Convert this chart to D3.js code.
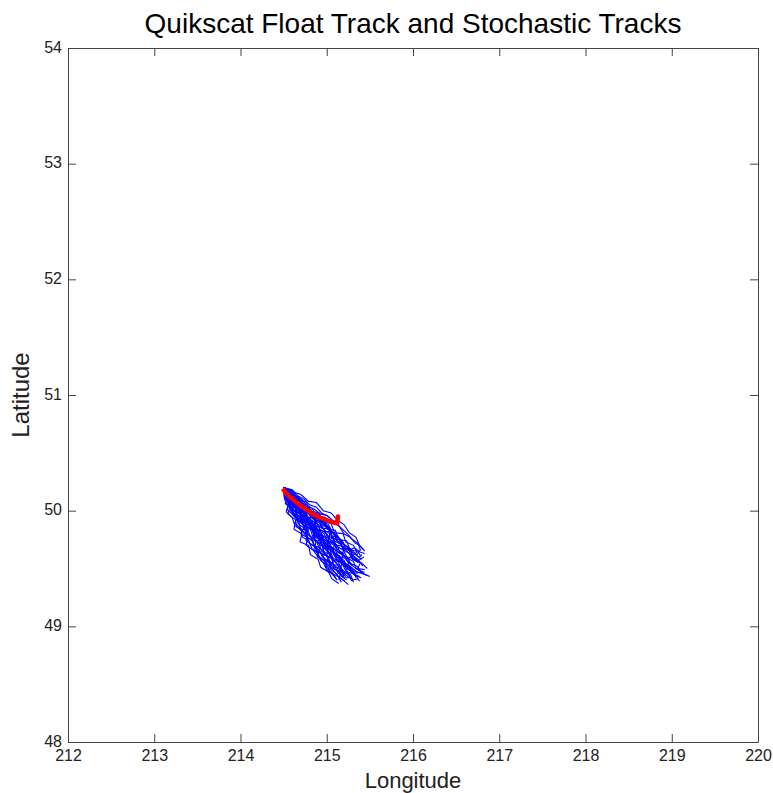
<!DOCTYPE html>
<html>
<head>
<meta charset="utf-8">
<script src="https://cdn.jsdelivr.net/npm/d3@7"></script>
<style>
  body { margin: 0; background: #fff; }
  text { font-family: "Liberation Sans", Arial, sans-serif; }
</style>
</head>
<body>
<script>
// chart size
let width = 773;
let height = 793;

// axis ranges and ticks
let lonTicks = [212, 213, 214, 215, 216, 217, 218, 219, 220];
let latTicks = [48, 49, 50, 51, 52, 53, 54];

// observed float track (red)
let floatTrack = [
  [214.49, 50.19], [214.53, 50.15], [214.57, 50.12], [214.62, 50.09], [214.67, 50.06],
  [214.72, 50.03], [214.77, 50.01], [214.82, 49.98], [214.87, 49.96], [214.92, 49.94],
  [214.97, 49.93], [215.02, 49.91], [215.07, 49.90], [215.12, 49.89], [215.13, 49.95],
  [215.12, 49.88]
];

// stochastic tracks (blue)
let stochTracks = [
  [[214.50,50.20],[214.51,50.12],[214.56,50.08],[214.54,50.01],[214.60,49.97],[214.66,49.93],[214.65,49.86],[214.72,49.82],[214.78,49.76],[214.76,49.70],[214.84,49.66],[214.90,49.60],[214.96,49.55],[215.00,49.49],[215.08,49.44],[215.12,49.40]],
  [[214.50,50.20],[214.57,50.16],[214.62,50.10],[214.70,50.07],[214.74,50.01],[214.82,49.98],[214.88,49.92],[214.95,49.90],[215.01,49.84],[215.08,49.80],[215.12,49.74],[215.20,49.71],[215.27,49.66],[215.32,49.68],[215.39,49.64],[215.44,49.63]],
  [[214.50,50.20],[214.53,50.14],[214.60,50.10],[214.63,50.03],[214.69,49.98],[214.72,49.90],[214.80,49.87],[214.85,49.80],[214.90,49.77],[214.94,49.70],[215.01,49.66],[215.06,49.60],[215.13,49.56],[215.18,49.49],[215.25,49.45],[215.30,49.40],[215.36,49.41]],
  [[214.50,50.20],[214.55,50.15],[214.59,50.07],[214.66,50.04],[214.71,49.97],[214.77,49.94],[214.81,49.86],[214.89,49.83],[214.93,49.75],[215.00,49.72],[215.05,49.65],[215.12,49.62],[215.17,49.56],[215.25,49.53],[215.31,49.48],[215.40,49.46],[215.47,49.44]],
  [[214.50,50.20],[214.52,50.13],[214.57,50.07],[214.58,50.00],[214.64,49.95],[214.68,49.88],[214.74,49.85],[214.77,49.78],[214.84,49.73],[214.88,49.66],[214.95,49.62],[214.99,49.55],[215.06,49.50],[215.12,49.44],[215.19,49.40],[215.25,49.36]],
  [[214.50,50.20],[214.58,50.17],[214.65,50.12],[214.72,50.09],[214.78,50.04],[214.86,50.01],[214.93,49.97],[215.00,49.96],[215.06,49.92],[215.13,49.88],[215.18,49.84],[215.24,49.80],[215.30,49.75],[215.36,49.72],[215.39,49.66],[215.34,49.61]],
  [[214.50,50.20],[214.54,50.12],[214.61,50.07],[214.67,50.01],[214.70,49.94],[214.78,49.90],[214.83,49.84],[214.87,49.77],[214.95,49.73],[215.00,49.67],[215.04,49.60],[215.11,49.55],[215.16,49.48],[215.22,49.43]],
  [[214.50,50.20],[214.56,50.14],[214.63,50.11],[214.68,50.05],[214.76,50.01],[214.81,49.95],[214.88,49.90],[214.92,49.84],[215.00,49.80],[215.05,49.74],[215.12,49.70],[215.16,49.63],[215.23,49.60],[215.28,49.54],[215.35,49.52],[215.40,49.47]],
  [[214.50,50.20],[214.51,50.10],[214.55,50.04],[214.53,49.99],[214.60,49.94],[214.63,49.87],[214.70,49.84],[214.72,49.77],[214.79,49.74],[214.83,49.67],[214.90,49.63],[214.93,49.57],[215.00,49.53],[215.04,49.47],[215.10,49.42]],
  [[214.50,50.20],[214.57,50.13],[214.64,50.09],[214.69,50.02],[214.75,49.98],[214.80,49.91],[214.87,49.87],[214.91,49.80],[214.98,49.77],[215.03,49.70],[215.09,49.67],[215.14,49.60],[215.20,49.57],[215.24,49.51],[215.31,49.47],[215.34,49.42]],
  [[214.50,50.20],[214.55,50.16],[214.61,50.11],[214.67,50.08],[214.73,50.03],[214.80,49.99],[214.85,49.93],[214.92,49.89],[214.97,49.83],[215.04,49.80],[215.09,49.74],[215.16,49.71],[215.21,49.65],[215.29,49.62],[215.36,49.58],[215.42,49.52]],
  [[214.50,50.20],[214.53,50.11],[214.58,50.05],[214.62,49.97],[214.68,49.92],[214.74,49.86],[214.78,49.80],[214.83,49.76],[214.86,49.69],[214.92,49.65],[214.97,49.59],[215.03,49.55],[215.08,49.50],[215.15,49.47],[215.19,49.42]],
  [[214.50,50.20],[214.59,50.15],[214.66,50.10],[214.71,50.06],[214.79,50.02],[214.84,49.96],[214.91,49.93],[214.96,49.87],[215.03,49.84],[215.07,49.77],[215.14,49.73],[215.19,49.68],[215.25,49.64],[215.30,49.58],[215.37,49.55]],
  [[214.50,50.20],[214.54,50.14],[214.58,50.09],[214.65,50.06],[214.68,49.99],[214.75,49.95],[214.78,49.88],[214.85,49.84],[214.89,49.78],[214.96,49.74],[215.00,49.68],[215.07,49.64],[215.11,49.58],[215.18,49.54],[215.22,49.48],[215.28,49.44],[215.31,49.38]],
  [[214.50,50.20],[214.56,50.13],[214.62,50.09],[214.66,50.02],[214.73,49.99],[214.77,49.92],[214.84,49.88],[214.88,49.81],[214.95,49.78],[214.99,49.71],[215.06,49.68],[215.10,49.62],[215.17,49.59],[215.22,49.52],[215.28,49.50]],
  [[214.50,50.20],[214.60,50.18],[214.66,50.13],[214.74,50.10],[214.80,50.05],[214.88,50.03],[214.94,49.98],[215.02,49.95],[215.08,49.90],[215.15,49.86],[215.20,49.80],[215.27,49.77],[215.33,49.72],[215.38,49.70],[215.44,49.65]],
  [[214.50,50.20],[214.52,50.12],[214.59,50.08],[214.61,50.01],[214.67,49.96],[214.71,49.89],[214.77,49.85],[214.81,49.78],[214.88,49.74],[214.91,49.68],[214.98,49.64],[215.02,49.57],[215.09,49.53],[215.13,49.46],[215.20,49.44]],
  [[214.50,50.20],[214.57,50.15],[214.63,50.09],[214.70,50.05],[214.76,49.99],[214.83,49.96],[214.88,49.89],[214.95,49.86],[215.00,49.79],[215.07,49.76],[215.12,49.69],[215.19,49.66],[215.24,49.59],[215.31,49.56],[215.34,49.50],[215.42,49.47]],
  [[214.50,50.20],[214.55,50.13],[214.60,50.06],[214.67,50.03],[214.71,49.96],[214.76,49.91],[214.82,49.86],[214.86,49.79],[214.92,49.75],[214.96,49.68],[215.03,49.63],[215.07,49.57],[215.14,49.53],[215.18,49.47],[215.26,49.42]],
  [[214.50,50.20],[214.58,50.16],[214.64,50.12],[214.71,50.07],[214.77,50.03],[214.84,49.98],[214.90,49.95],[214.96,49.89],[215.03,49.86],[215.08,49.80],[215.15,49.76],[215.21,49.70],[215.28,49.67],[215.34,49.62],[215.40,49.58]],
  [[214.50,50.20],[214.52,50.14],[214.57,50.10],[214.56,50.03],[214.62,49.98],[214.66,49.92],[214.73,49.88],[214.76,49.81],[214.82,49.77],[214.85,49.70],[214.91,49.66],[214.95,49.60],[215.02,49.56],[215.05,49.49],[215.12,49.45],[215.17,49.38]],
  [[214.50,50.20],[214.56,50.15],[214.64,50.13],[214.70,50.07],[214.77,50.05],[214.82,49.99],[214.90,49.97],[214.95,49.91],[215.02,49.88],[215.06,49.82],[215.13,49.78],[215.17,49.72],[215.24,49.69],[215.28,49.62],[215.33,49.60]],
  [[214.50,50.20],[214.54,50.12],[214.61,50.08],[214.64,50.00],[214.70,49.96],[214.74,49.89],[214.81,49.84],[214.84,49.77],[214.91,49.72],[214.94,49.65],[215.01,49.61],[215.05,49.54],[215.12,49.51],[215.16,49.44],[215.23,49.40]],
  [[214.50,50.20],[214.57,50.14],[214.62,50.08],[214.69,50.04],[214.74,49.97],[214.81,49.93],[214.86,49.86],[214.93,49.82],[214.97,49.75],[215.04,49.71],[215.08,49.64],[215.15,49.61],[215.19,49.54],[215.26,49.51],[215.32,49.45],[215.38,49.43]],
  [[214.50,50.20],[214.55,50.15],[214.60,50.11],[214.68,50.09],[214.73,50.02],[214.79,49.97],[214.86,49.94],[214.90,49.87],[214.97,49.84],[215.01,49.77],[215.08,49.73],[215.12,49.67],[215.19,49.63],[215.23,49.57],[215.30,49.53]],
  [[214.50,50.20],[214.51,50.15],[214.54,50.08],[214.59,50.03],[214.61,49.96],[214.67,49.91],[214.70,49.84],[214.77,49.79],[214.80,49.72],[214.87,49.68],[214.90,49.61],[214.97,49.57],[215.00,49.50],[215.07,49.46],[215.11,49.41]],
  [[214.50,50.20],[214.58,50.14],[214.66,50.12],[214.72,50.06],[214.79,50.00],[214.87,49.97],[214.92,49.92],[214.99,49.88],[215.05,49.83],[215.11,49.77],[215.18,49.74],[215.22,49.67],[215.30,49.64],[215.37,49.60],[215.41,49.62]],
  [[214.50,50.20],[214.53,50.15],[214.60,50.12],[214.64,50.06],[214.71,50.02],[214.75,49.95],[214.82,49.91],[214.86,49.84],[214.93,49.80],[214.97,49.73],[215.04,49.69],[215.08,49.62],[215.15,49.58],[215.20,49.52],[215.27,49.48],[215.33,49.44],[215.40,49.42]],
  [[214.50,50.20],[214.56,50.16],[214.59,50.10],[214.65,50.07],[214.69,50.00],[214.76,49.96],[214.79,49.89],[214.86,49.86],[214.89,49.79],[214.95,49.76],[214.98,49.69],[215.04,49.66],[215.07,49.59]],
  [[214.50,50.20],[214.55,50.14],[214.62,50.10],[214.68,50.04],[214.75,50.00],[214.79,49.93],[214.86,49.90],[214.90,49.83],[214.97,49.80],[215.02,49.73],[215.09,49.70],[215.13,49.64],[215.20,49.61],[215.25,49.55],[215.32,49.51],[215.38,49.48],[215.44,49.45],[215.50,49.43]],
  [[214.50,50.20],[214.54,50.10],[214.62,50.06],[214.60,49.98],[214.69,49.95],[214.74,49.86],[214.70,49.80],[214.79,49.76],[214.88,49.74],[214.85,49.66],[214.94,49.63],[215.02,49.60],[214.99,49.52],[215.08,49.50],[215.16,49.46],[215.14,49.40]],
  [[214.50,50.20],[214.60,50.14],[214.58,50.08],[214.67,50.03],[214.78,50.02],[214.76,49.94],[214.86,49.90],[214.84,49.82],[214.94,49.79],[215.03,49.76],[215.00,49.69],[215.10,49.66],[215.19,49.62],[215.16,49.55],[215.27,49.52],[215.35,49.47]],
  [[214.50,50.20],[214.53,50.13],[214.64,50.11],[214.66,50.02],[214.76,49.99],[214.74,49.91],[214.83,49.87],[214.92,49.86],[214.90,49.78],[214.99,49.74],[215.09,49.72],[215.07,49.64],[215.16,49.60],[215.26,49.58],[215.24,49.50],[215.33,49.46],[215.44,49.47]],
  [[214.50,50.20],[214.55,50.15],[214.52,50.06],[214.61,50.02],[214.66,49.95],[214.63,49.89],[214.71,49.84],[214.78,49.83],[214.76,49.74],[214.84,49.70],[214.92,49.68],[214.89,49.60],[214.97,49.57],[215.05,49.55],[215.03,49.47],[215.13,49.43],[215.21,49.39]],
  [[214.50,50.20],[214.61,50.17],[214.67,50.09],[214.76,50.08],[214.81,50.00],[214.91,49.98],[214.95,49.91],[215.05,49.89],[215.09,49.81],[215.19,49.80],[215.22,49.73],[215.31,49.70],[215.35,49.64],[215.28,49.60],[215.36,49.56]],
  [[214.50,50.20],[214.57,50.12],[214.55,50.05],[214.64,49.99],[214.71,49.98],[214.69,49.90],[214.78,49.85],[214.87,49.84],[214.85,49.76],[214.93,49.70],[215.02,49.69],[215.00,49.61],[215.09,49.57],[215.18,49.55],[215.15,49.48],[215.25,49.45],[215.29,49.39]],
  [[214.50,50.20],[214.56,50.17],[214.63,50.07],[214.72,50.05],[214.70,49.97],[214.80,49.94],[214.88,49.94],[214.86,49.85],[214.96,49.82],[215.04,49.82],[215.02,49.74],[215.12,49.70],[215.20,49.69],[215.18,49.61],[215.29,49.59],[215.37,49.57],[215.43,49.60]],
  [[214.50,50.20],[214.51,50.11],[214.58,50.06],[214.55,49.97],[214.64,49.92],[214.62,49.84],[214.71,49.80],[214.69,49.73],[214.79,49.70],[214.81,49.62],[214.90,49.58],[214.93,49.51],[215.02,49.47],[215.06,49.41],[215.14,49.37]],
  [[214.50,50.20],[214.59,50.13],[214.68,50.12],[214.70,50.04],[214.80,50.03],[214.82,49.94],[214.92,49.93],[214.94,49.85],[215.04,49.84],[215.06,49.76],[215.16,49.75],[215.18,49.67],[215.28,49.66],[215.30,49.58],[215.40,49.55],[215.47,49.50]],
  [[214.50,50.20],[214.54,50.15],[214.60,50.05],[214.68,50.01],[214.73,49.92],[214.81,49.89],[214.86,49.80],[214.94,49.78],[214.99,49.69],[215.07,49.67],[215.12,49.58],[215.20,49.55],[215.24,49.47],[215.33,49.45],[215.38,49.39]],
  [[214.50,50.20],[214.62,50.16],[214.70,50.14],[214.79,50.08],[214.88,50.07],[214.96,50.00],[215.05,49.98],[215.12,49.92],[215.20,49.88],[215.26,49.81],[215.34,49.77],[215.38,49.70],[215.43,49.66]],
  [[214.50,50.20],[214.55,50.11],[214.63,50.09],[214.65,49.99],[214.74,49.96],[214.76,49.87],[214.84,49.83],[214.86,49.74],[214.95,49.71],[214.97,49.62],[215.06,49.59],[215.08,49.51],[215.17,49.50],[215.20,49.42],[215.28,49.42]],
  [[214.50,50.20],[214.57,50.15],[214.66,50.06],[214.73,50.06],[214.80,49.97],[214.87,49.97],[214.93,49.88],[215.00,49.87],[215.06,49.78],[215.13,49.77],[215.19,49.68],[215.27,49.67],[215.31,49.60],[215.39,49.55],[215.36,49.50],[215.44,49.49]],
  [[214.50,50.20],[214.52,50.16],[214.57,50.04],[214.62,50.06],[214.67,49.93],[214.73,49.96],[214.77,49.83],[214.83,49.86],[214.87,49.73],[214.93,49.75],[214.97,49.63],[215.04,49.64],[215.08,49.53],[215.15,49.53],[215.20,49.45]],
  [[214.50,50.20],[214.58,50.18],[214.62,50.11],[214.71,50.10],[214.75,50.02],[214.84,50.01],[214.88,49.93],[214.97,49.92],[215.01,49.84],[215.10,49.83],[215.14,49.75],[215.23,49.74],[215.27,49.66],[215.36,49.65],[215.40,49.60]]
];

let svg = d3.select("body")
            .append("svg")
            .attr("width", width)
            .attr("height", height);

let plotLeft = 68, plotRight = 758, plotTop = 48, plotBottom = 742;

let x = d3.scaleLinear().domain([212, 220]).range([plotLeft, plotRight]);
let y = d3.scaleLinear().domain([48, 54]).range([plotBottom, plotTop]);

let axisColor = "#444";

// axes (ticks pointing inward like matlab)
svg.append("g")
   .attr("class", "xaxis")
   .attr("transform", "translate(0," + plotBottom + ")")
   .call(d3.axisBottom(x).tickValues(lonTicks).tickSizeInner(-8).tickSizeOuter(0).tickPadding(8).tickFormat(d3.format("d")));
svg.append("g")
   .attr("transform", "translate(0," + plotTop + ")")
   .call(d3.axisTop(x).tickValues(lonTicks).tickSizeInner(-8).tickSizeOuter(0).tickFormat(""));
svg.append("g")
   .attr("class", "yaxis")
   .attr("transform", "translate(" + plotLeft + ",0)")
   .call(d3.axisLeft(y).tickValues(latTicks).tickSizeInner(-8).tickSizeOuter(0).tickPadding(6).tickFormat(d3.format("d")));
svg.append("g")
   .attr("transform", "translate(" + plotRight + ",0)")
   .call(d3.axisRight(y).tickValues(latTicks).tickSizeInner(-8).tickSizeOuter(0).tickFormat(""));

svg.selectAll(".domain, .tick line").attr("stroke", axisColor);
svg.selectAll(".tick text")
   .attr("fill", "#222")
   .style("font-size", "16px")
   .style("font-family", "'Liberation Sans', Arial, sans-serif");
svg.selectAll(".yaxis .tick text").attr("dy", "0.25em");

// tracks
let line = d3.line().x(d => x(d[0])).y(d => y(d[1]));

svg.append("g")
   .selectAll("path")
   .data(stochTracks)
   .enter()
   .append("path")
   .attr("d", line)
   .attr("fill", "none")
   .attr("stroke", "#0000ff")
   .attr("stroke-width", 1.1);

svg.append("path")
   .datum(floatTrack)
   .attr("d", line)
   .attr("fill", "none")
   .attr("stroke", "#ff0000")
   .attr("stroke-width", 4.5)
   .attr("stroke-linejoin", "round");

// titles
svg.append("text")
   .attr("x", (plotLeft + plotRight) / 2)
   .attr("y", 33)
   .attr("text-anchor", "middle")
   .style("font-size", "28px")
   .text("Quikscat Float Track and Stochastic Tracks");

svg.append("text")
   .attr("x", (plotLeft + plotRight) / 2)
   .attr("y", 788)
   .attr("text-anchor", "middle")
   .style("font-size", "22px")
   .attr("fill", "#222")
   .text("Longitude");

svg.append("text")
   .attr("transform", "translate(29," + ((plotTop + plotBottom) / 2) + ") rotate(-90)")
   .attr("text-anchor", "middle")
   .style("font-size", "24px")
   .attr("fill", "#222")
   .text("Latitude");
</script>
</body>
</html>
